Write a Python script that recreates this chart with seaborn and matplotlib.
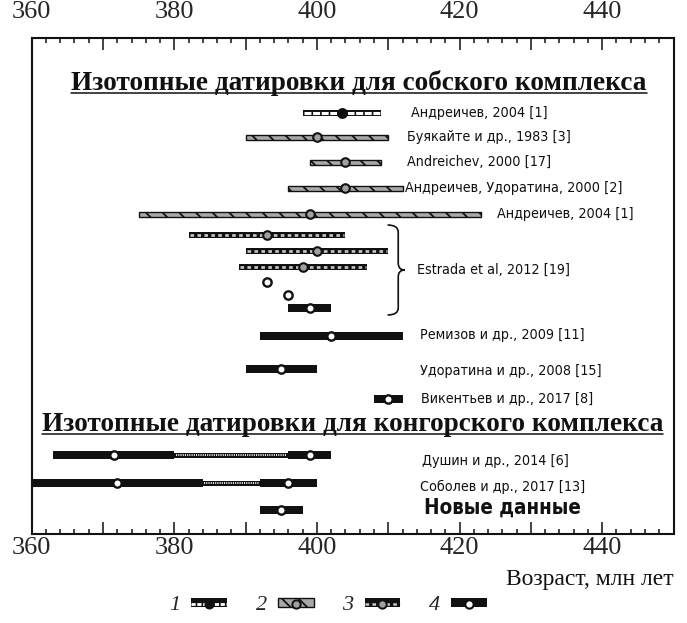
import os
import matplotlib
matplotlib.use("Agg")
import matplotlib.pyplot as plt
import seaborn as sns
import pandas as pd
from matplotlib import font_manager
from matplotlib.patches import PathPatch, Rectangle
from matplotlib.path import Path
from matplotlib.lines import Line2D
from matplotlib.legend_handler import HandlerTuple
from matplotlib.font_manager import FontProperties
from matplotlib.ticker import MultipleLocator, FuncFormatter, FixedLocator, NullLocator

# ---------------------------------------------------------------- data
# Age intervals, Ma. Type: 1-4 as in the legend, 0 = uncertain span
seg_row = [0, 1, 2, 3, 4, 5, 6, 7, 10, 11, 12, 13, 14, 14, 14, 15, 15, 15, 16]
seg_lo = [398, 390, 399, 396, 375, 382, 390, 389, 396, 392, 390, 408, 363, 380, 396, 358, 384, 392, 392]
seg_hi = [409, 410, 409, 412, 423, 404, 410, 407, 402, 412, 400, 412, 380, 396, 402, 384, 392, 400, 398]
seg_type = [1, 2, 2, 2, 2, 3, 3, 3, 4, 4, 4, 4, 4, 0, 4, 4, 0, 4, 4]

# Central (weighted mean) ages, Ma
pt_row = [0, 1, 2, 3, 4, 5, 6, 7, 8, 9, 10, 11, 12, 13, 14, 14, 15, 15, 16]
pt_age = [403.5, 400, 404, 404, 399, 393, 400, 398, 393, 396, 399, 402, 395, 410, 371.5, 399, 372, 396, 395]
pt_type = [1, 2, 2, 2, 2, 3, 3, 3, 4, 4, 4, 4, 4, 4, 4, 4, 4, 4, 4]

# Age scale labels
age_ticks = [360, 380, 400, 420, 440]

# References
ref_text = [
    "Андреичев, 2004 [1]",
    "Буякайте и др., 1983 [3]",
    "Andreichev, 2000 [17]",
    "Андреичев, Удоратина, 2000 [2]",
    "Андреичев, 2004 [1]",
    "Estrada et al, 2012 [19]",
    "Ремизов и др., 2009 [11]",
    "Удоратина и др., 2008 [15]",
    "Викентьев и др., 2017 [8]",
    "Душин и др., 2014 [6]",
    "Соболев и др., 2017 [13]",
    "Новые данные",
]
headers = ["Изотопные датировки для собского комплекса",
           "Изотопные датировки для конгорского комплекса"]
legend_labels = ["1", "2", "3", "4"]
x_label = "Возраст, млн лет"
estrada_rows = [5, 6, 7, 8, 9, 10]

# ---------------------------------------------------------------- layout
W_PX, H_PX = 687, 623
AX_L, AX_R, AX_T, AX_B = 31.7, 673.5, 38, 534
# vertical position of each row (axis units run top->bottom in pixels)
row_y = [113, 137, 162, 188, 214, 235, 251, 267, 282, 295, 308, 336, 369, 399, 455, 483, 510]
# reference label anchors: (x in Ma, y)
ref_pos = [(413.2, 113), (412.6, 137), (412.6, 162), (412.4, 188), (425.2, 214),
           (414.1, 270), (414.4, 335), (414.4, 371), (414.6, 399),
           (414.8, 461), (414.4, 487), (415.0, 508)]
header_pos = [(405.9, 90), (405.0, 431)]

SERIF = "Liberation Serif"


def narrow_font(bold):
    """Pick a condensed sans face if one is installed."""
    wanted = (["LiberationSansNarrow-Bold.ttf", "DejaVuSansCondensed-Bold.ttf"] if bold
              else ["LiberationSansNarrow-Regular.ttf", "DejaVuSansCondensed.ttf"])
    files = {os.path.basename(f.fname): f.fname for f in font_manager.fontManager.ttflist}
    for w in wanted:
        if w in files:
            return FontProperties(fname=files[w]), w
    return FontProperties(family="Liberation Sans", weight="bold" if bold else "normal"), None


label_fp, label_src = narrow_font(False)
bold_fp, bold_src = narrow_font(True)
if label_src is None:
    label_size, bold_size = 10.6, 13.5
elif label_src.startswith("Liberation"):
    label_size, bold_size = 12.0, 16
else:
    label_size, bold_size = 10.3, 14.8

sns.set_style("ticks")
plt.rcParams.update({
    "font.family": [SERIF, "DejaVu Sans"],
    "lines.scale_dashes": False,
    "hatch.linewidth": 1.3,
    "axes.linewidth": 1.5,
})

fig = plt.figure(figsize=(W_PX / 100, H_PX / 100), dpi=100)
ax = fig.add_axes([AX_L / W_PX, 1 - AX_B / H_PX, (AX_R - AX_L) / W_PX, (AX_B - AX_T) / H_PX])

segs = pd.DataFrame({"row": seg_row, "lo": seg_lo, "hi": seg_hi, "type": seg_type})
segs["y"] = [row_y[r] for r in segs["row"]]
pts = pd.DataFrame({"row": pt_row, "age": pt_age, "type": pt_type})
pts["y"] = [row_y[r] for r in pts["row"]]

BLACK = "#111111"
GRAY_BAR = "#a8a8a8"
GRAY_PT = "#a0a0a0"
INSET = 0.18  # Ma kept black at bar ends

# bar bodies
bar_style = {
    4: dict(height=7.5, color=BLACK, edgecolor="none"),
    1: dict(height=6.5, color=BLACK, edgecolor="none"),
    3: dict(height=6.5, color=BLACK, edgecolor="none"),
    0: dict(height=5.0, color=BLACK, edgecolor="none"),
    2: dict(height=5.0, color=GRAY_BAR, edgecolor=BLACK, linewidth=1.0, hatch="\\\\"),
}
for t, st in bar_style.items():
    d = segs[segs["type"] == t]
    if len(d):
        ax.barh(d["y"], d["hi"] - d["lo"], left=d["lo"], zorder=2, **st)

# inner patterns of the composite bars
inner_style = {
    1: dict(colors="white", linewidth=2.2, linestyles=[(0, (5.0, 1.2))]),
    3: dict(colors="#c8c8c8", linewidth=1.9, linestyles=[(0, (2.6, 2.4))]),
    0: dict(colors="#e8e8e8", linewidth=1.4, linestyles=[(0, (0.8, 0.8))]),
}
for t, st in inner_style.items():
    d = segs[segs["type"] == t]
    ax.hlines(d["y"], d["lo"] + INSET, d["hi"] - INSET, zorder=3, capstyle="butt", **st)

# central ages
pt_style = {
    1: dict(color=BLACK, edgecolor=BLACK, s=44, linewidth=1.2),
    2: dict(color=GRAY_PT, edgecolor=BLACK, s=38, linewidth=1.5),
    3: dict(color=GRAY_PT, edgecolor=BLACK, s=38, linewidth=1.5),
    4: dict(color="white", edgecolor=BLACK, s=36, linewidth=1.7),
}
for t, st in pt_style.items():
    d = pts[pts["type"] == t]
    sns.scatterplot(data=d, x="age", y="y", ax=ax, zorder=5, legend=False, **st)

# brace grouping the Estrada et al. determinations
g = segs[segs["row"].isin(estrada_rows)]
bx0 = g["hi"].max() - 0.1
bx1 = bx0 + 1.5
bx2 = bx0 + 2.4
by0 = row_y[estrada_rows[0]] - 10
by2 = row_y[estrada_rows[-1]] + 7
by1 = (by0 + by2) / 2
r = 7
verts = [(bx0, by0), (bx1, by0), (bx1, by0 + r),
         (bx1, by1 - r), (bx1, by1), (bx2, by1),
         (bx1, by1), (bx1, by1 + r),
         (bx1, by2 - r), (bx1, by2), (bx0, by2)]
codes = [Path.MOVETO, Path.CURVE3, Path.CURVE3,
         Path.LINETO, Path.CURVE3, Path.CURVE3,
         Path.CURVE3, Path.CURVE3,
         Path.LINETO, Path.CURVE3, Path.CURVE3]
ax.add_patch(PathPatch(Path(verts, codes), fc="none", ec=BLACK, lw=1.2, zorder=3))

# reference labels
for i, (txt, (x, y)) in enumerate(zip(ref_text, ref_pos)):
    last = i == len(ref_text) - 1
    fp = (bold_fp if last else label_fp).copy()
    fp.set_size(bold_size if last else label_size)
    ax.text(x, y, txt, ha="left", va="center", fontproperties=fp, color=BLACK)

# section headers
header_artists = []
for txt, (x, y) in zip(headers, header_pos):
    header_artists.append(ax.text(x, y, txt, ha="center", va="baseline",
                                  fontfamily=SERIF, fontweight="bold",
                                  fontsize=19.6, color=BLACK))

# axes
ax.set_xlim(360, 450)
ax.set_ylim(AX_B, AX_T)
ax.set_xlabel("")
ax.set_ylabel("")
ax.yaxis.set_visible(False)
fmt = FuncFormatter(lambda v, p: f"{v:.0f}" if v in age_ticks else "")
ax.xaxis.set_major_locator(MultipleLocator(10))
ax.xaxis.set_minor_locator(MultipleLocator(2))
ax.xaxis.set_major_formatter(fmt)
ax.tick_params(axis="x", which="both", direction="in", top=True, bottom=True,
               labeltop=False, labelbottom=True, width=1.1, color=BLACK)
ax.tick_params(axis="x", which="major", length=8.4, labelsize=19, pad=2.5)
ax.tick_params(axis="x", which="minor", length=3.6)
for lab in ax.get_xticklabels():
    lab.set_fontfamily(SERIF)
for sp in ax.spines.values():
    sp.set_visible(True)
    sp.set_linewidth(1.5)
    sp.set_color(BLACK)

# age scale repeated along the top edge
top = ax.secondary_xaxis("top")
top.xaxis.set_major_locator(FixedLocator(age_ticks))
top.xaxis.set_minor_locator(NullLocator())
top.xaxis.set_major_formatter(FuncFormatter(lambda v, p: f"{v:.0f}"))
top.tick_params(axis="x", which="both", length=0, labelsize=19, pad=10.5)
top.spines["top"].set_visible(False)
for lab in top.get_xticklabels():
    lab.set_fontfamily(SERIF)

fig.text(AX_R / W_PX, 1 - 580 / H_PX, x_label, ha="right", va="center",
         fontfamily=SERIF, fontsize=17, color=BLACK)


# legend
def handles_for(t):
    if t == 1:
        return (Rectangle((0, 0), 1, 1, fc=BLACK, ec="none"),
                Line2D([], [], color="white", lw=2.0, ls=(0, (3.0, 1.2))),
                Line2D([], [], ls="none", marker="o", ms=6.2, mfc=BLACK, mec=BLACK))
    if t == 2:
        return (Rectangle((0, 0), 1, 1, fc=GRAY_BAR, ec=BLACK, lw=1.0, hatch="\\\\"),
                Line2D([], [], ls="none", marker="o", ms=6.0, mfc=GRAY_PT, mec=BLACK, mew=1.4))
    if t == 3:
        return (Rectangle((0, 0), 1, 1, fc=BLACK, ec="none"),
                Line2D([], [], color="#c8c8c8", lw=1.8, ls=(0, (2.6, 2.4))),
                Line2D([], [], ls="none", marker="o", ms=6.0, mfc=GRAY_PT, mec=BLACK, mew=1.4))
    return (Rectangle((0, 0), 1, 1, fc=BLACK, ec="none"),
            Line2D([], [], ls="none", marker="o", ms=6.0, mfc="white", mec=BLACK, mew=1.5))


fig.legend(handles=[handles_for(t) for t in (1, 2, 3, 4)], labels=legend_labels,
           loc="center", bbox_to_anchor=(328 / W_PX, 1 - 606 / H_PX), ncol=4,
           frameon=False, markerfirst=False, numpoints=1,
           handlelength=1.6, handleheight=0.3, handletextpad=0.5, columnspacing=1.3,
           prop=FontProperties(family=SERIF, style="italic", size=16),
           handler_map={tuple: HandlerTuple(ndivide=1, pad=0)})

# underline the headers
fig.canvas.draw()
rend = fig.canvas.get_renderer()
inv = fig.transFigure.inverted()
for t in header_artists:
    bb = t.get_window_extent(rend)
    yb = ax.transData.transform(t.get_position())[1] - 2.5
    (fx0, fy), (fx1, _) = inv.transform([(bb.x0, yb), (bb.x1, yb)])
    fig.add_artist(Line2D([fx0, fx1], [fy, fy], transform=fig.transFigure,
                          color=BLACK, lw=1.1))

fig.savefig("out.png", dpi=100)
